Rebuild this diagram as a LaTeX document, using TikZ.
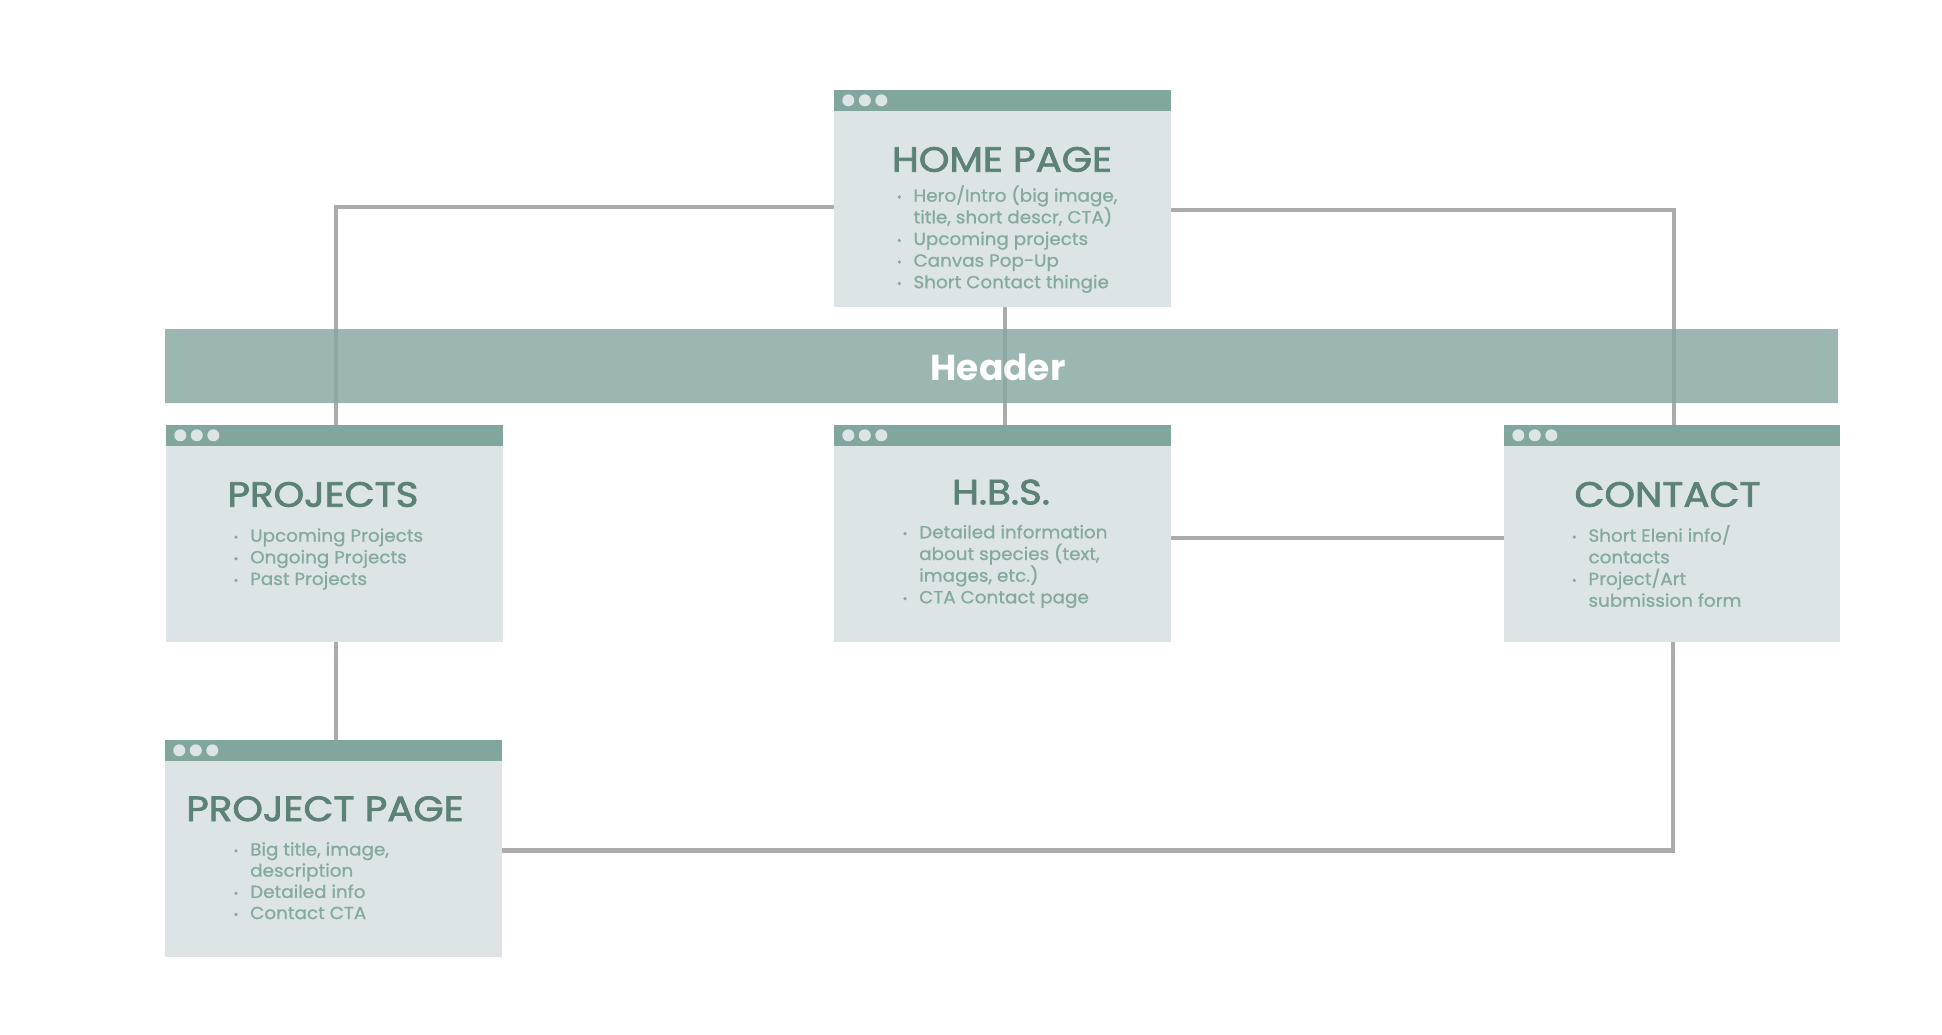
\documentclass[tikz,border=0pt]{standalone}
\usepackage{fontspec}
\setmainfont{Poppins}
\newfontfamily\titlefont{Poppins}[FakeBold=2.2, FakeStretch=1.11]
\newfontfamily\itemfont{Poppins}[FakeBold=0.8, FakeStretch=1.05]

\definecolor{barc}{HTML}{80A69E}
\definecolor{bodyc}{HTML}{DCE4E7}
\definecolor{titc}{HTML}{5B8178}
\definecolor{bulc}{HTML}{85A99F}
\definecolor{hdrc}{HTML}{87A8A1}
\definecolor{linec}{HTML}{ABABAB}

\tikzset{
  win/.style={rectangle, fill=bodyc, draw=none, inner sep=0pt,
    minimum width=337pt, minimum height=217pt},
  conn/.style={draw=linec, line width=4.6pt},
  wtitle/.style={anchor=base, inner sep=0pt, text=titc,
    font=\titlefont\fontsize{35}{40}\selectfont},
  itm/.style={anchor=base west, inner sep=0pt, text=bulc,
    font=\itemfont\fontsize{17.5}{21}\selectfont},
}

% title bar with three dots on top of a window box
\newcommand\winbar[1]{%
  \fill[barc] (#1.north west) rectangle ([yshift=-21pt]#1.north east);
  \foreach \dx in {14.5,31,47.5}
    \fill[bodyc] ([xshift=\dx pt,yshift=-10.5pt]#1.north west) circle (6pt);
}
% bullet line: name, text x, baseline y, text
\newcommand\bulline[4]{%
  \fill[bulc] (#2-14,#3-4.6) circle (1.8pt);
  \node[itm] (#1) at (#2,#3) {#4};
}
% continuation line of a bullet
\newcommand\contline[4]{%
  \node[itm] (#1) at (#2,#3) {#4};
}

\begin{document}
\begin{tikzpicture}[x=1pt,y=-1pt]
\useasboundingbox (0,0) rectangle (1942,1034);
\fill[white] (0,0) rectangle (1942,1034);

% window boxes (placed first so connectors can refer to them)
\node[win] (home) at (1002.5,198.5) {};
\node[win] (projects) at (334.5,533.5) {};
\node[win] (hbs) at (1002.5,533.5) {};
\node[win, minimum width=336pt] (contact) at (1672,533.5) {};
\node[win] (ppage) at (333.5,848.5) {};

% connectors
\draw[conn] ([yshift=-8.5pt]home.west) -| ([xshift=1.5pt]projects.north);
\draw[conn] ([yshift=-11.5pt]home.east) -| ([xshift=2pt]contact.north);
\draw[conn] ([xshift=2.5pt]home.south) -- ([xshift=2.5pt]hbs.north);
\draw[conn] ([yshift=-4.5pt]hbs.east) -- ([yshift=-4.5pt]contact.west);
\draw[conn] ([xshift=1.5pt]projects.south) -- ([xshift=1.5pt]projects.south |- ppage.north);
\draw[conn] ([yshift=-2pt]ppage.east) -| ([xshift=1pt]contact.south);

% header bar, slightly see-through
\begin{scope}[transparency group, opacity=0.82]
  \node[rectangle, fill=hdrc, inner sep=0pt, minimum width=1673pt,
    minimum height=74pt] (header) at (1001.5,366) {};
  \node[anchor=base, inner sep=0pt, text=white,
    font=\bfseries\fontsize{36}{40}\selectfont] (headertext) at (998,380) {Header};
\end{scope}

% redraw window bodies above connectors
\foreach \w in {home,projects,hbs,contact,ppage}{
  \fill[bodyc] (\w.north west) rectangle (\w.south east);
  \winbar{\w}
}

% HOME PAGE
\node[wtitle] (hometitle) at (1002,171.7) {HOME PAGE};
\bulline{h1}{913.3}{201.7}{Hero/Intro (big image,}
\contline{h1b}{913.3}{223.3}{title, short descr, CTA)}
\bulline{h2}{913.3}{245}{Upcoming projects}
\bulline{h3}{913.3}{266.6}{Canvas Pop-Up}
\bulline{h4}{913.3}{288.2}{Short Contact thingie}

% PROJECTS
\node[wtitle] (projtitle) at (323,506.7) {PROJECTS};
\bulline{p1}{250}{541.7}{Upcoming Projects}
\bulline{p2}{250}{563.3}{Ongoing Projects}
\bulline{p3}{250}{585}{Past Projects}

% H.B.S.
\node[wtitle] (hbstitle) at (1001,504.3) {H.B.S.};
\bulline{b1}{919}{538.3}{Detailed information}
\contline{b1b}{919}{560}{about species (text,}
\contline{b1c}{919}{581.7}{images, etc.)}
\bulline{b2}{919}{603.3}{CTA Contact page}

% CONTACT
\node[wtitle] (conttitle) at (1667.5,506.7) {CONTACT};
\bulline{c1}{1588.3}{541.7}{Short Eleni info/}
\contline{c1b}{1588.3}{563.3}{contacts}
\bulline{c2}{1588.3}{585}{Project/Art}
\contline{c2b}{1588.3}{606.7}{submission form}

% PROJECT PAGE
\node[wtitle] (pptitle) at (325,821) {PROJECT PAGE};
\bulline{q1}{250}{855.5}{Big title, image,}
\contline{q1b}{250}{876.7}{description}
\bulline{q2}{250}{897.9}{Detailed info}
\bulline{q3}{250}{919.1}{Contact CTA}
\end{tikzpicture}
\end{document}
